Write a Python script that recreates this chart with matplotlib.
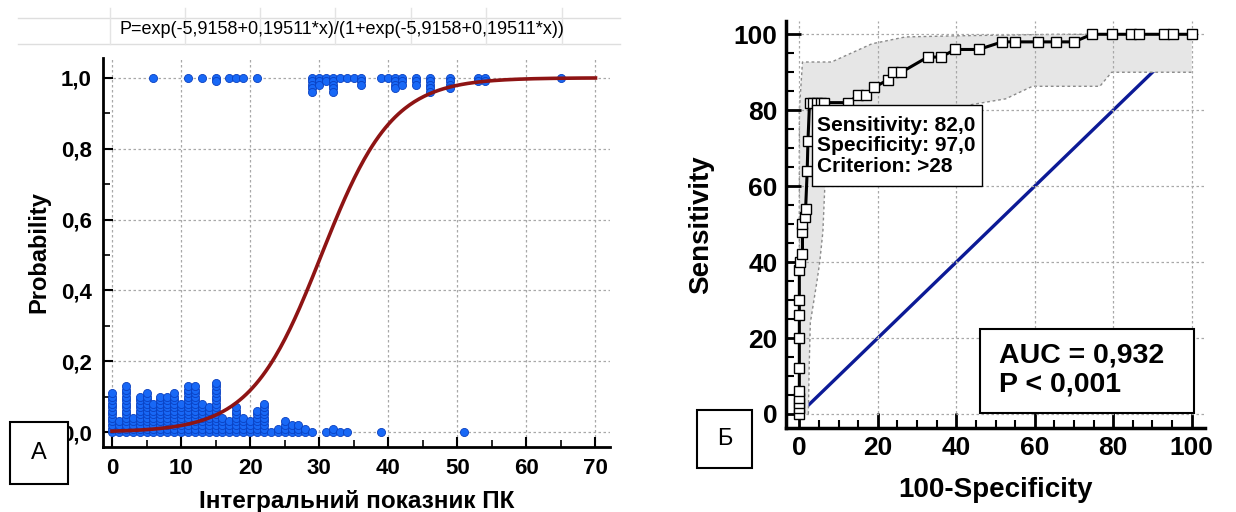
import numpy as np
import matplotlib
matplotlib.use('Agg')
import matplotlib.pyplot as plt
from matplotlib.patches import Rectangle
from matplotlib.lines import Line2D
from matplotlib.ticker import MultipleLocator

plt.rcParams['font.family'] = ['Liberation Sans', 'DejaVu Sans']

# --- panel A: logistic regression ---
B0, B1 = -5.9158, 0.19511
FORMULA = 'P=exp(-5,9158+0,19511*x)/(1+exp(-5,9158+0,19511*x))'

x_neg = [0, 1, 2, 3, 4, 5, 6, 7, 8, 9, 10, 11, 12, 13, 14, 15, 16, 17, 18, 19,
         20, 21, 22, 23, 24, 25, 26, 27, 28, 29, 31, 32, 33, 34, 39, 51]
n_neg = [12, 4, 14, 5, 11, 12, 9, 11, 11, 12, 9, 14, 14, 9, 8, 15, 5, 4, 8, 5,
         4, 7, 9, 1, 2, 4, 3, 3, 2, 1, 1, 2, 1, 1, 1, 1]
x_pos = [6, 11, 13, 15, 17, 18, 19, 21, 29, 30, 31, 32, 33, 34, 35, 36,
         39, 40, 41, 42, 44, 46, 49, 53, 54, 65]
n_pos = [1, 1, 1, 2, 1, 1, 1, 1, 5, 3, 2, 5, 1, 1, 1, 3,
         1, 1, 4, 3, 3, 5, 4, 2, 2, 1]
a_yticks = [0.0, 0.2, 0.4, 0.6, 0.8, 1.0]
a_ylabels = ['0,0', '0,2', '0,4', '0,6', '0,8', '1,0']

# --- panel B: ROC curve ---
roc_fpr = [0, 0, 0, 0, 0, 0, 0, 0, 0, 0, 0.2, 0.8, 0.8, 0.8, 1.4, 1.6, 2.0, 2.2,
           2.6, 3.5, 4.5, 5.4, 6.3, 12.5, 15, 17, 19, 22.6, 24, 26, 32.7, 36,
           39.8, 45.7, 51.7, 55, 60.8, 65.5, 70, 74.6, 79.7, 84.5, 86.6, 93, 95.3, 100]
roc_sens = [0, 1.5, 2.8, 4.2, 6, 12, 20, 26, 30, 38, 40, 42, 48, 50, 52, 54, 64, 72,
            82, 82, 82, 82, 82, 82, 84, 84, 86, 88, 90, 90, 94, 94,
            96, 96, 98, 98, 98, 98, 98, 100, 100, 100, 100, 100, 100, 100]
ci_up_x = [0, 0, 0.8, 8.2, 18.5, 27, 40, 66, 100]
ci_up_y = [0, 80, 92.7, 92.7, 97.5, 99.3, 99.6, 100, 100]
ci_lo_x = [2.3, 2.5, 2.8, 4.5, 5.2, 6.0, 6.5, 10, 20, 35, 44, 52.6, 59.4, 76.6, 79.6, 100]
ci_lo_y = [0, 12, 24, 35, 40, 48, 60, 68, 75, 79, 81.5, 83, 86.3, 86.3, 90, 90]
criterion_text = 'Sensitivity: 82,0\nSpecificity: 97,0\nCriterion: >28'
auc_text = 'AUC = 0,932\nP < 0,001'

W, H = 1236, 512
fig = plt.figure(figsize=(W / 100, H / 100), dpi=100)


def px_rect(l, t, r, b):
    return [l / W, 1 - b / H, (r - l) / W, (b - t) / H]


GRID = dict(color='#a8a8a8', linestyle=(0, (2, 2)), linewidth=0.9)

# ---------------- panel A ----------------
ax = fig.add_axes(px_rect(103, 58, 610, 447))
step = 0.01
xs, ys = [], []
for x, n in zip(x_neg, n_neg):
    for k in range(n):
        xs.append(x); ys.append(k * step)
for x, n in zip(x_pos, n_pos):
    for k in range(n):
        xs.append(x); ys.append(1 - k * step)
ax.scatter(xs, ys, s=34, color='#1868f6', edgecolors='#0a40c0', linewidths=0.6, zorder=3)

xc = np.linspace(0, 70, 300)
ax.plot(xc, np.exp(B0 + B1 * xc) / (1 + np.exp(B0 + B1 * xc)), color='#8e1414', lw=2.6, zorder=4)

ax.set_xlim(-1.3, 72.1)
ax.set_ylim(-0.042, 1.056)
ax.xaxis.set_major_locator(MultipleLocator(10))
ax.xaxis.set_minor_locator(MultipleLocator(5))
ax.set_yticks(a_yticks)
ax.set_yticklabels(a_ylabels)
ax.yaxis.set_minor_locator(MultipleLocator(0.1))
ax.grid(True, which='major', **GRID)
ax.set_axisbelow(True)
for s in ('top', 'right'):
    ax.spines[s].set_visible(False)
for s in ('left', 'bottom'):
    ax.spines[s].set_linewidth(2)
ax.tick_params(which='major', direction='in', length=7, width=1.5, labelsize=16, pad=8)
ax.tick_params(which='minor', direction='in', length=5, width=1.2)
for lab in ax.get_xticklabels() + ax.get_yticklabels():
    lab.set_fontweight('bold')
ax.set_xlabel('Інтегральний показник ПК', fontsize=17.5, fontweight='bold', labelpad=8)
ax.set_ylabel('Probability', fontsize=17, fontweight='bold', labelpad=8)

# spreadsheet-like header with the formula
for yy in (18, 44):
    fig.add_artist(Line2D([18 / W, 620 / W], [1 - yy / H] * 2, color='#dedede', lw=1))
for xx in (110, 185, 260, 335, 411, 486, 562):
    fig.add_artist(Line2D([xx / W] * 2, [1 - 8 / H, 1 - 44 / H], color='#e4e4e4', lw=1))
fig.text(342 / W, 1 - 29 / H, FORMULA, fontsize=13, ha='center', va='center')

# ---------------- panel B ----------------
bx = fig.add_axes(px_rect(786, 21, 1205, 428))
bx.plot([0, 100], [0, 100], color='#0c1a96', lw=2.4, zorder=0.8)
bx.fill(ci_up_x + ci_lo_x[::-1], ci_up_y + ci_lo_y[::-1], facecolor='#e6e6e6',
        edgecolor='none', zorder=1)
bx.plot(ci_up_x, ci_up_y, color='#8a8a8a', lw=1, linestyle=(0, (2, 2)), zorder=1.2)
bx.plot(ci_lo_x, ci_lo_y, color='#8a8a8a', lw=1, linestyle=(0, (2, 2)), zorder=1.2)
bx.plot(roc_fpr, roc_sens, color='black', lw=2.2, marker='s', markersize=7,
        markerfacecolor='white', markeredgecolor='black', markeredgewidth=1, zorder=3)

bx.set_xlim(-3.4, 103.4)
bx.set_ylim(-3.7, 103.5)
bx.xaxis.set_major_locator(MultipleLocator(20))
bx.xaxis.set_minor_locator(MultipleLocator(5))
bx.yaxis.set_major_locator(MultipleLocator(20))
bx.yaxis.set_minor_locator(MultipleLocator(5))
bx.grid(True, which='major', **GRID)
bx.set_axisbelow('line')
for s in ('top', 'right'):
    bx.spines[s].set_visible(False)
for s in ('left', 'bottom'):
    bx.spines[s].set_linewidth(2.5)
bx.tick_params(which='major', direction='in', length=11, width=2, labelsize=19, pad=6)
bx.tick_params(which='minor', direction='in', length=6, width=1.5)
for lab in bx.get_xticklabels() + bx.get_yticklabels():
    lab.set_fontweight('bold')
bx.set_xlabel('100-Specificity', fontsize=20, fontweight='bold', labelpad=12)
bx.set_ylabel('Sensitivity', fontsize=20, fontweight='bold', labelpad=14)

bx.add_patch(Rectangle((3.2, 60), 43.3, 21.5, facecolor='white', edgecolor='black',
                       lw=1, zorder=5))
bx.text(4.4, 70.6, criterion_text, fontsize=15, fontweight='bold', va='center',
        ha='left', linespacing=1.1, zorder=6)
bx.add_patch(Rectangle((46.0, 0.3), 54.5, 22.2, facecolor='white', edgecolor='black',
                       lw=1.5, zorder=5))
bx.text(51.0, 11.5, auc_text, fontsize=20.5, fontweight='bold', va='center', ha='left',
        linespacing=1.15, zorder=6)

# panel letters
for (l, t, r, b), letter in (((10, 422, 68, 484), 'А'), ((697, 410, 752, 468), 'Б')):
    fig.add_artist(Rectangle((l / W, 1 - b / H), (r - l) / W, (b - t) / H,
                             transform=fig.transFigure, facecolor='white',
                             edgecolor='black', lw=1.5, zorder=10))
    fig.text((l + r) / 2 / W, 1 - (t + b) / 2 / H, letter, fontsize=17,
             ha='center', va='center', zorder=11)

fig.savefig('out.png', dpi=100, facecolor='white')
